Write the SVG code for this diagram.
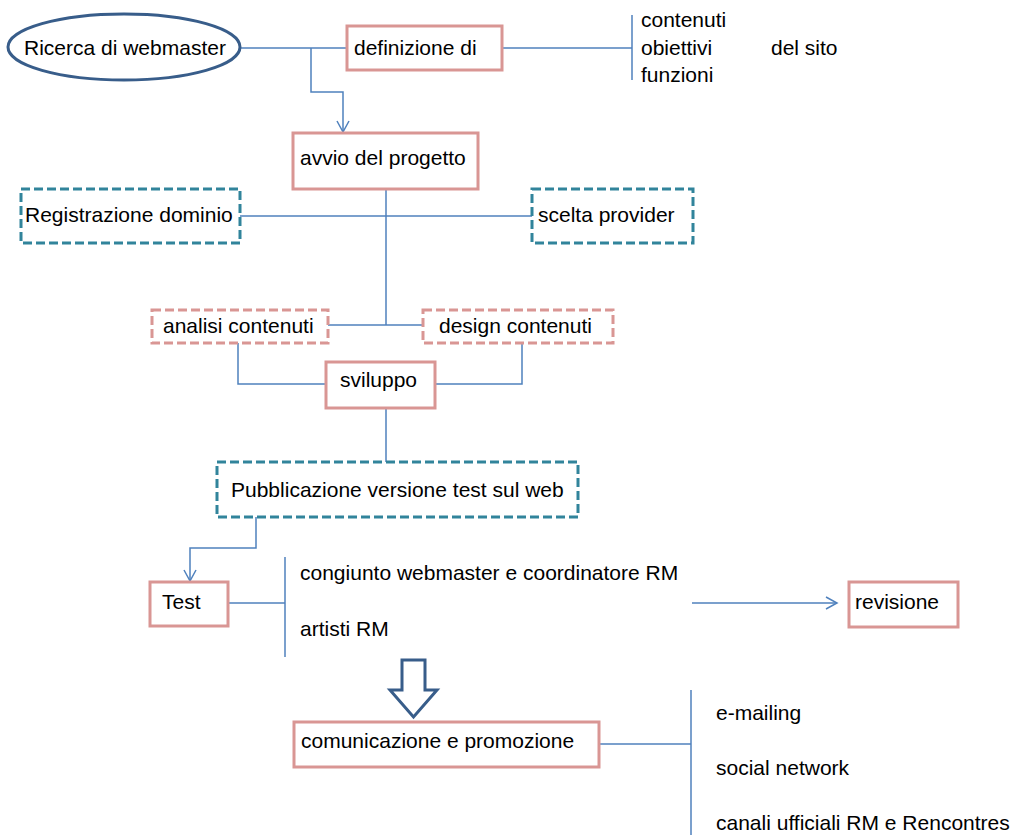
<svg xmlns="http://www.w3.org/2000/svg" width="1010" height="835" viewBox="0 0 1010 835">
<style>
text{font-family:"Liberation Sans",Arial,sans-serif;font-size:21px;fill:#000}
.box{fill:#fff;stroke:#D99694;stroke-width:3}
.dpink{fill:#fff;stroke:#D99694;stroke-width:3;stroke-dasharray:9,4}
.dteal{fill:#fff;stroke:#31849B;stroke-width:3;stroke-dasharray:9,4}
.con{fill:none;stroke:#4F81BD;stroke-width:1.5}
</style>
<defs>
<marker id="arr" markerWidth="14" markerHeight="14" refX="12" refY="7" orient="auto" markerUnits="userSpaceOnUse">
<path d="M1,1 L12,7 L1,13" fill="none" stroke="#4F81BD" stroke-width="1.5"/>
</marker>
</defs>
<g id="connectors">
<path class="con" d="M240,48 H347"/>
<path class="con" d="M311,48 V92 H343 V132" marker-end="url(#arr)"/>
<path class="con" d="M502,48 H632"/>
<path class="con" d="M632,15 V80"/>
<path class="con" d="M386,189 V325"/>
<path class="con" d="M240,216 H532"/>
<path class="con" d="M328,325 H423"/>
<path class="con" d="M238,343 V384 H326"/>
<path class="con" d="M522,343 V384 H435"/>
<path class="con" d="M386,408 V462"/>
<path class="con" d="M256,517 V548 H190 V581" marker-end="url(#arr)"/>
<path class="con" d="M228,603 H285"/>
<path class="con" d="M285,557 V657"/>
<path class="con" d="M692,603 H837" marker-end="url(#arr)"/>
<path class="con" d="M599,744 H691"/>
<path class="con" d="M691,690 V835"/>
</g>
<g id="n-ricerca">
<ellipse cx="124" cy="47" rx="116" ry="33" fill="#fff" stroke="#385D8A" stroke-width="3"/>
<text x="24" y="55">Ricerca di webmaster</text>
</g>
<g id="n-definizione">
<rect class="box" x="347" y="26" width="155" height="44"/>
<text x="354" y="55">definizione di</text>
</g>
<g id="n-obiettivi">
<text x="641" y="27">contenuti</text>
<text x="641" y="55">obiettivi</text>
<text x="641" y="82">funzioni</text>
<text x="771" y="55">del sito</text>
</g>
<g id="n-avvio">
<rect class="box" x="293" y="133" width="185" height="56"/>
<text x="300" y="165">avvio del progetto</text>
</g>
<g id="n-registrazione">
<rect class="dteal" x="21" y="189" width="219" height="54"/>
<text x="25" y="222">Registrazione dominio</text>
</g>
<g id="n-provider">
<rect class="dteal" x="532" y="189" width="161" height="54"/>
<text x="538" y="222">scelta provider</text>
</g>
<g id="n-analisi">
<rect class="dpink" x="152" y="310" width="176" height="33"/>
<text x="163" y="333">analisi contenuti</text>
</g>
<g id="n-design">
<rect class="dpink" x="423" y="310" width="190" height="33"/>
<text x="439" y="333">design contenuti</text>
</g>
<g id="n-sviluppo">
<rect class="box" x="326" y="362" width="109" height="46"/>
<text x="340" y="387">sviluppo</text>
</g>
<g id="n-pubblicazione">
<rect class="dteal" x="217" y="462" width="361" height="55"/>
<text x="231" y="497">Pubblicazione versione test sul web</text>
</g>
<g id="n-test">
<rect class="box" x="150" y="582" width="78" height="44"/>
<text x="162" y="609">Test</text>
</g>
<g id="n-testers">
<text x="300" y="580">congiunto webmaster e coordinatore RM</text>
<text x="300" y="636">artisti RM</text>
</g>
<g id="n-revisione">
<rect class="box" x="849" y="582" width="109" height="45"/>
<text x="855" y="609">revisione</text>
</g>
<g id="n-bigarrow">
<path d="M402,660 H425 V690 H437 L413.5,717 L390,690 H402 Z" fill="#fff" stroke="#385D8A" stroke-width="3" stroke-linejoin="miter"/>
</g>
<g id="n-comunicazione">
<rect class="box" x="294" y="722" width="305" height="45"/>
<text x="301" y="748">comunicazione e promozione</text>
</g>
<g id="n-canali">
<text x="716" y="720">e-mailing</text>
<text x="716" y="775">social network</text>
<text x="716" y="830">canali ufficiali RM e Rencontres</text>
</g>
</svg>
